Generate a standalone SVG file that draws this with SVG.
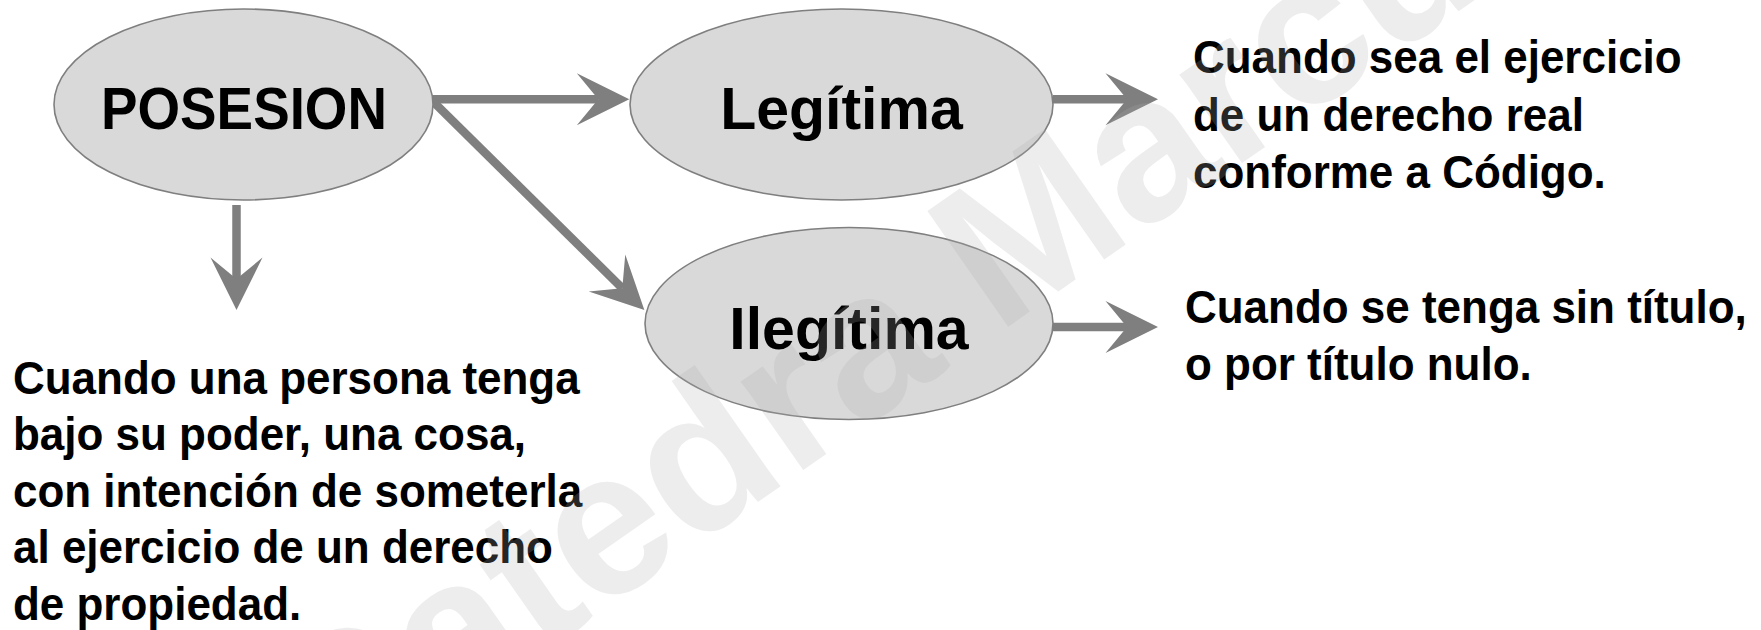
<svg xmlns="http://www.w3.org/2000/svg" width="1761" height="630" viewBox="0 0 1761 630">
  <style>
    .node { fill: #d9d9d9; stroke: #7f7f7f; stroke-width: 1.6; }
    .title { font-family: "Liberation Sans", Arial, sans-serif; font-weight: bold; font-size: 59px; fill: #000; text-anchor: middle; }
    .body { font-family: "Liberation Sans", Arial, sans-serif; font-weight: bold; font-size: 46px; fill: #000; }
    .link { stroke: #7f7f7f; stroke-width: 8.5; fill: none; marker-end: url(#head); }
    .mark { font-family: "Liberation Sans", Arial, sans-serif; font-weight: bold; font-size: 205px; fill: #aeaeae; fill-opacity: 0.22; }
  </style>
  <defs>
    <!-- notched arrowhead; the shaft ends at the notch, the tip sits 31px further on -->
    <marker id="head" markerUnits="userSpaceOnUse" markerWidth="90" markerHeight="60" refX="0" refY="0" orient="auto" overflow="visible">
      <path d="M31,0 L-21.5,-26 L0,0 L-21.5,26 Z" fill="#7f7f7f"/>
    </marker>
  </defs>

  <rect width="1761" height="630" fill="#ffffff"/>

  <!-- connectors -->
  <g id="connectors">
    <line class="link" x1="430" y1="99.3" x2="598.3" y2="99.3"/>
    <line class="link" x1="431" y1="99.5" x2="622.3" y2="288.2"/>
    <line class="link" x1="236.5" y1="205" x2="236.5" y2="279"/>
    <line class="link" x1="1053" y1="99.3" x2="1127" y2="99.3"/>
    <line class="link" x1="1053" y1="327" x2="1127" y2="327"/>
  </g>

  <!-- nodes -->
  <g id="posesion">
    <ellipse class="node" cx="243.5" cy="104.5" rx="189.5" ry="95.5"/>
    <text class="title" x="244" y="128.5" textLength="286" lengthAdjust="spacingAndGlyphs">POSESION</text>
  </g>
  <g id="legitima">
    <ellipse class="node" cx="841.5" cy="104.5" rx="211.5" ry="95.5"/>
    <text class="title" x="841.5" y="128.5">Legítima</text>
  </g>
  <g id="ilegitima">
    <ellipse class="node" cx="849" cy="323.5" rx="204" ry="96"/>
    <text class="title" x="849" y="348.5">Ilegítima</text>
  </g>

  <!-- definitions, set in a slightly condensed bold -->
  <g id="def-posesion" transform="translate(13,0) scale(0.956,1)">
    <text class="body" x="0" y="394">Cuando una persona tenga</text>
    <text class="body" x="0" y="450.5">bajo su poder, una cosa,</text>
    <text class="body" x="0" y="507">con intención de someterla</text>
    <text class="body" x="0" y="563.5">al ejercicio de un derecho</text>
    <text class="body" x="0" y="620">de propiedad.</text>
  </g>
  <g id="def-legitima" transform="translate(1193,0) scale(0.956,1)">
    <text class="body" x="0" y="73.5">Cuando sea el ejercicio</text>
    <text class="body" x="0" y="130.8">de un derecho real</text>
    <text class="body" x="0" y="188">conforme a Código.</text>
  </g>
  <g id="def-ilegitima" transform="translate(1185,0) scale(0.956,1)">
    <text class="body" x="0" y="323">Cuando se tenga sin título,</text>
    <text class="body" x="0" y="380">o por título nulo.</text>
  </g>

  <!-- translucent diagonal watermark over everything -->
  <text class="mark" transform="translate(325,805) rotate(-35)">Catedra Marcus</text>
</svg>
